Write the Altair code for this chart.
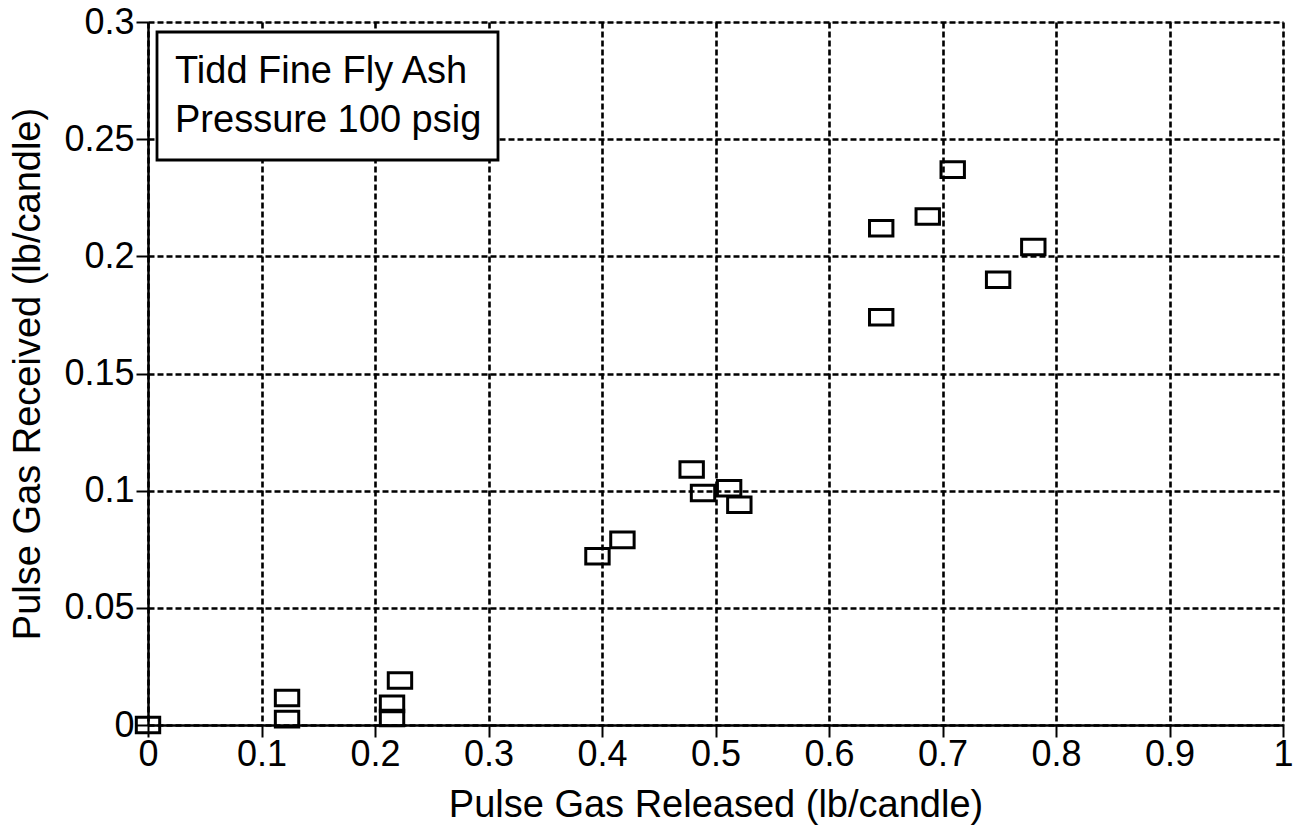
import altair as alt
import pandas as pd

released = [0.0, 0.1225, 0.1225, 0.215, 0.215, 0.222, 0.396, 0.418, 0.479, 0.489,
            0.512, 0.521, 0.646, 0.646, 0.687, 0.709, 0.749, 0.780]
received = [0.0, 0.0115, 0.0025, 0.009, 0.003, 0.019, 0.072, 0.079, 0.109, 0.099,
            0.101, 0.094, 0.212, 0.174, 0.217, 0.237, 0.190, 0.204]
legend_lines = ["Tidd Fine Fly Ash", "Pressure 100 psig"]

df = pd.DataFrame({"x": released, "y": received})

FONT = "Liberation Sans"
W, H = 1135, 703

rect_path = "M-1.2,-0.8L1.2,-0.8L1.2,0.8L-1.2,0.8Z"

common = dict(grid=True, gridDash=[6, 3], gridColor="black", gridWidth=2.6, gridOpacity=1,
              domainColor="black", domainWidth=2.5, tickColor="black", tickSize=12, tickWidth=2,
              labelFont=FONT, labelFontSize=36, labelColor="black",
              titleFont=FONT, titleFontSize=38, titleFontWeight="normal", titleColor="black",
              labelFlush=False, format="~g")

xaxis = alt.Axis(values=[i / 10 for i in range(11)], title="Pulse Gas Released (lb/candle)",
                 labelPadding=0, titlePadding=14, **common)
yaxis = alt.Axis(values=[0, 0.05, 0.1, 0.15, 0.2, 0.25, 0.3],
                 title="Pulse Gas Received (lb/candle)", labelPadding=2, titlePadding=16, **common)

points = alt.Chart(df).mark_point(shape=rect_path, size=380, filled=False, color="black",
                                  strokeWidth=3, opacity=1).encode(
    x=alt.X("x:Q", scale=alt.Scale(domain=[0, 1], nice=False), axis=xaxis),
    y=alt.Y("y:Q", scale=alt.Scale(domain=[0, 0.3], nice=False), axis=yaxis),
)

box = alt.Chart(pd.DataFrame({"a": [0]})).mark_rect(fill="white", stroke="black", strokeWidth=2.8).encode(
    x=alt.value(9), x2=alt.value(350), y=alt.value(10), y2=alt.value(138)
)

t1 = alt.Chart(pd.DataFrame({"t": [legend_lines[0]]})).mark_text(
    align="left", baseline="alphabetic", font=FONT, fontSize=38, color="black"
).encode(x=alt.value(27), y=alt.value(61), text="t:N")
t2 = alt.Chart(pd.DataFrame({"t": [legend_lines[1]]})).mark_text(
    align="left", baseline="alphabetic", font=FONT, fontSize=38, color="black"
).encode(x=alt.value(27), y=alt.value(110), text="t:N")

chart = alt.layer(points, box, t1, t2).properties(
    width=W, height=H,
    autosize=alt.AutoSizeParams(type="none"),
    padding={"left": 148, "top": 22, "right": 18, "bottom": 106},
).configure_view(stroke="black", strokeWidth=2.5).configure(background="white")

chart.save("out.html", embed_options={"renderer": "svg", "actions": False})
